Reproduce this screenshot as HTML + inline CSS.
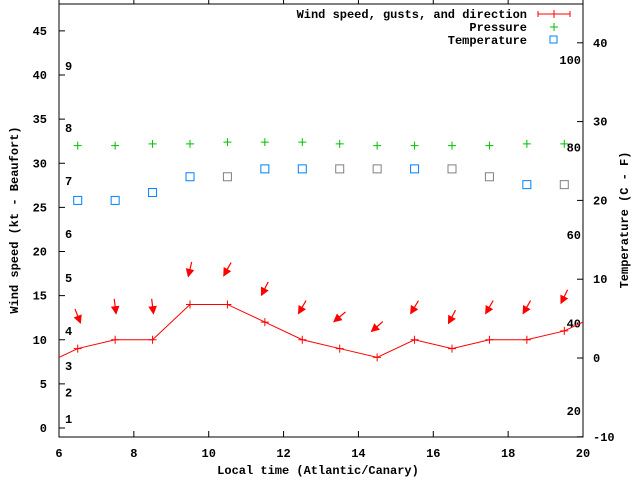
<!DOCTYPE html>
<html><head><meta charset="utf-8"><style>
html,body{margin:0;padding:0;background:#fff;}
svg{display:block;font-family:"Liberation Mono","DejaVu Sans Mono",monospace;font-size:12px;font-weight:bold;}
</style></head><body>
<svg id="chart" width="640" height="480" viewBox="0 0 640 480" xmlns="http://www.w3.org/2000/svg">
<defs><clipPath id="plotclip"><rect x="59" y="4" width="524" height="433"/></clipPath></defs>
<g id="axes"></g>
<g id="marks" clip-path="url(#plotclip)"></g>
<g id="legend"></g>
<text x="318" y="474" text-anchor="middle">Local time (Atlantic/Canary)</text>
<text transform="translate(18,220) rotate(-90)" text-anchor="middle">Wind speed (kt - Beaufort)</text>
<text transform="translate(628,220) rotate(-90)" text-anchor="middle">Temperature (C - F)</text>
</svg>
<script>
const times = [6.5,7.5,8.5,9.5,10.5,11.5,12.5,13.5,14.5,15.5,16.5,17.5,18.5,19.5];
const windSpeed = [9,10,10,14,14,12,10,9,8,10,9,10,10,11];
const windLineTimes = [5.5,6.5,7.5,8.5,9.5,10.5,11.5,12.5,13.5,14.5,15.5,16.5,17.5,18.5,19.5,20.5];
const windLineSpeed = [7,9,10,10,14,14,12,10,9,8,10,9,10,10,11,13];
const windDir = [339,353,353,13,29,27,30,50,49,31,28,30,30,26];
const gusts = [12.7,13.8,13.8,18,18,15.8,13.7,12.6,11.5,13.7,12.6,13.7,13.7,14.9];
const pressure = [32,32,32.2,32.2,32.4,32.4,32.4,32.2,32,32,32,32,32.2,32.2];
const temperature = [20,20,21,23,23,24,24,24,24,24,24,23,22,22];
const tempGray = [0,0,0,0,1,0,0,1,1,0,1,1,0,1];
const xTicks = [6,8,10,12,14,16,18,20];
const yTicks = [0,5,10,15,20,25,30,35,40,45];
const y2Ticks = [-10,0,10,20,30,40];
const beaufortLabels = ['1','2','3','4','5','6','7','8','9'];
const beaufortSpeeds = [1.0,4.0,7.0,11.0,17.0,22.0,28.0,34.0,41.0];
const fLabels = ['20','40','60','80','100'];
const fValues = [-6.7,4.4,15.6,26.7,37.8];

const NS='http://www.w3.org/2000/svg';
const L=59,R=583,T=4,B=437;
const xs=t=>L+(t-6)*(R-L)/14;
const ys=v=>428-v*8.825;
const y2s=v=>358-v*7.88;
function mk(tag,attrs,parent,txt){const e=document.createElementNS(NS,tag);for(const k in attrs)e.setAttribute(k,attrs[k]);if(txt!==undefined)e.textContent=txt;parent.appendChild(e);return e;}
const ax=document.getElementById('axes'),mg=document.getElementById('marks'),lg=document.getElementById('legend');

let fr=mk('rect',{x:L,y:T,width:R-L,height:B-T,fill:'none',stroke:'#000','stroke-width':1},ax);


xTicks.forEach(t=>{const x=xs(t);
 let l=mk('line',{x1:x,y1:B,x2:x,y2:B-6,stroke:'#000'},ax);
 
 
 let l2=mk('line',{x1:x,y1:0,x2:x,y2:T,stroke:'#000'},ax);
 
 
 let tx=mk('text',{x:x,y:B+20,'text-anchor':'middle'},ax,String(t));
 
 
});
yTicks.forEach(v=>{const y=ys(v);
 let l=mk('line',{x1:L,y1:y,x2:L+6,y2:y,stroke:'#000'},ax);
 
 
 let tx=mk('text',{x:L-12,y:y+4,'text-anchor':'end'},ax,String(v));
 
 
});
y2Ticks.forEach(v=>{const y=y2s(v);
 let l=mk('line',{x1:R,y1:y,x2:R-6,y2:y,stroke:'#000'},ax);
 
 
 let tx=mk('text',{x:R+10,y:y+4,'text-anchor':'start'},ax,String(v));
 
 
});
beaufortLabels.forEach((s,i)=>{
 let tx=mk('text',{x:65,y:ys(beaufortSpeeds[i])+4},ax,s);
 
 
});
fLabels.forEach((s,i)=>{
 let tx=mk('text',{x:581,y:y2s(fValues[i])+4,'text-anchor':'end'},ax,s);
 
 
});

// wind line
let pts=windLineTimes.map((t,i)=>xs(t)+','+ys(windLineSpeed[i])).join(' ');
let pl=mk('polyline',{points:pts,fill:'none',stroke:'#f00','stroke-width':1},mg);


function plus(x,y,c,name){let p=mk('path',{d:`M${x-4},${y}h8M${x},${y-4}v8`,stroke:c,'stroke-width':1,fill:'none'},mg);
 
 }
times.forEach((t,i)=>plus(xs(t),ys(windSpeed[i]),'#f00','wind-point'));
// arrows
times.forEach((t,i)=>{
 const cx=xs(t),cy=ys(gusts[i]),a=windDir[i]*Math.PI/180,Lh=7.5;
 const dx=-Math.sin(a),dy=Math.cos(a);
 const x1=cx-dx*Lh,y1=cy-dy*Lh,x2=cx+dx*Lh,y2=cy+dy*Lh;
 const px=-dy,py=dx,h=7,w=3.5;
 let g=mk('g',{},mg);
 
 
 mk('line',{x1:x1,y1:y1,x2:x2,y2:y2,stroke:'#f00','stroke-width':1.2},g);
 mk('polygon',{points:`${x2},${y2} ${x2-dx*h+px*w},${y2-dy*h+py*w} ${x2-dx*h-px*w},${y2-dy*h-py*w}`,fill:'#f00',stroke:'#f00'},g);
});
times.forEach((t,i)=>plus(xs(t),ys(pressure[i]),'#00c000','pressure-point'));
times.forEach((t,i)=>{
 let r=mk('rect',{x:xs(t)-4,y:y2s(temperature[i])-4,width:8,height:8,fill:'none',stroke:tempGray[i]?'#808080':'#0080ff','stroke-width':1},mg);
 
 
});

// legend
const legNames=['Wind speed, gusts, and direction','Pressure','Temperature'];
legNames.forEach((n,i)=>{const y=14+i*13;
 let tx=mk('text',{x:527,y:y+4,'text-anchor':'end'},lg,n);
 
 
});
let l1=mk('path',{d:'M538,14h32M538,11v6M570,11v6M554,10v8',stroke:'#f00',fill:'none'},lg);


let l2=mk('path',{d:'M550,27h8M554,23v8',stroke:'#00c000',fill:'none'},lg);


let l3=mk('rect',{x:550,y:36,width:7,height:7,stroke:'#0080ff',fill:'none'},lg);


</script>
</body></html>
